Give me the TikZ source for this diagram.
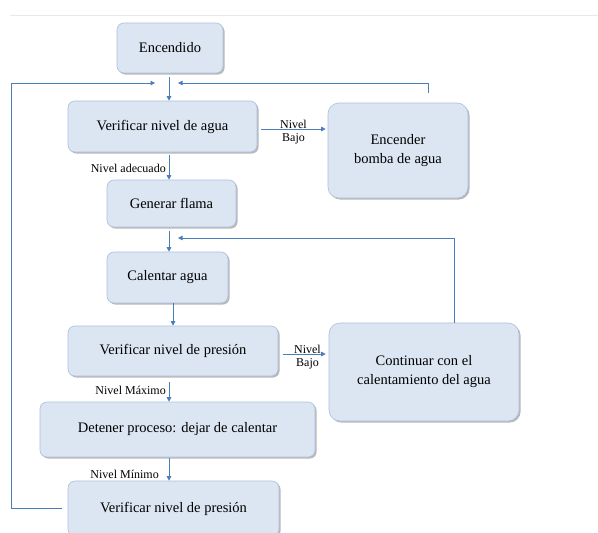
\documentclass[tikz,border=0pt]{standalone}
\usepackage{fontspec}
\setmainfont{Liberation Serif}
\newfontfamily\boxfont{Liberation Serif}
\usetikzlibrary{arrows.meta,calc,shadows}
\definecolor{boxfill}{HTML}{DCE6F2}
\definecolor{boxline}{HTML}{A9C0DE}
\definecolor{arrowblue}{HTML}{4A7EBB}
\definecolor{sepgray}{HTML}{E8E8E8}
\begin{document}
\begin{tikzpicture}[x=1pt,y=-1pt,
 box/.style={draw=boxline, line width=0.6pt, fill=boxfill, rounded corners=7pt, align=center,
   font=\boxfont\fontsize{14.5}{19}\selectfont, inner sep=0pt,
   drop shadow={shadow xshift=1.6pt, shadow yshift=-1.6pt, fill=black!50, opacity=0.55}},
 bigbox/.style={box, rounded corners=11pt},
 arr/.style={draw=arrowblue, line width=0.8pt, -{Triangle[length=4.5pt,width=4.5pt]}},
 lbl/.style={font=\boxfont\fontsize{12}{14}\selectfont, inner sep=1pt}]
\useasboundingbox[fill=white] (0,0) rectangle (598,533);
\coordinate (sepl) at (10,15);
\coordinate (sepr) at (598,15);
\draw[sepgray, line width=0.8pt] (sepl) -- (sepr);

\node[box, minimum width=106pt, minimum height=50pt] (enc) at (170,48) {Encendido};
\node[box, minimum width=189pt, minimum height=51pt] (va) at (162.5,126.5) {Verificar nivel de agua};
\node[bigbox, minimum width=140pt, minimum height=95pt] (eb) at (398,150.5) {Encender\\bomba de agua};
\node[box, minimum width=129pt, minimum height=47pt] (gf) at (171.5,203.5) {Generar flama};
\node[box, minimum width=121pt, minimum height=51pt] (ca) at (167.5,277.5) {Calentar agua};
\node[box, minimum width=210pt, minimum height=50pt] (vp1) at (173,351) {Verificar nivel de presión};
\node[bigbox, minimum width=190pt, minimum height=98pt] (cc) at (424,372) {Continuar con el\\calentamiento del agua};
\node[box, minimum width=275pt, minimum height=55pt] (dp) at (177.5,429.5) {Detener proceso: dejar de calentar};
\node[box, minimum width=211pt, minimum height=55pt] (vp2) at (173.5,508.5) {Verificar nivel de presión};

\coordinate (jl) at (155,83);
\coordinate (lc) at (11,83);
\coordinate (jr) at (178,83);
\coordinate (jr2) at (178,238);

\draw[arr] ($(enc.south)+(-1,4)$) -- ($(va.north)+(6.5,0)$);
\draw[arr] ($(va.south)+(6.5,3)$) -- ($(gf.north)+(-2.5,0)$);
\draw[arr] ($(gf.south)+(-2.5,4)$) -- ($(ca.north)+(1.5,0)$);
\draw[arr] ($(ca.south)+(5.5,0)$) -- (vp1.north);
\draw[arr] ($(vp1.south)+(-4,6)$) -- ($(dp.north)+(-8.5,0)$);
\draw[arr] ($(dp.south)+(-8.5,1)$) -- ($(vp2.north)+(-4.5,0)$);

\draw[arr] ($(va.east)+(4,2.5)$) -- node[lbl, above, yshift=-1pt] {Nivel} node[lbl, below, yshift=-3pt] {Bajo} ($(eb.west)+(-2,-21.5)$);
\draw[arr] ($(vp1.east)+(5,3)$) -- node[lbl, above, yshift=-1pt, xshift=3pt] {Nivel} node[lbl, below, yshift=-3pt, xshift=3pt] {Bajo} ($(cc.west)+(-3,-18)$);

\draw[arr] ($(vp2.west)+(-6,0)$) -| (lc) -- (jl);
\draw[arr] ($(eb.north)+(30,-10)$) |- (jr);
\draw[arr] ($(cc.north)+(30,0)$) |- (jr2);

\node[lbl, anchor=east] (l1) at (167,168) {Nivel adecuado};
\node[lbl, anchor=east] (l2) at (167,390) {Nivel Máximo};
\node[lbl, anchor=east] (l3) at (160,474) {Nivel Mínimo};
\end{tikzpicture}
\end{document}
